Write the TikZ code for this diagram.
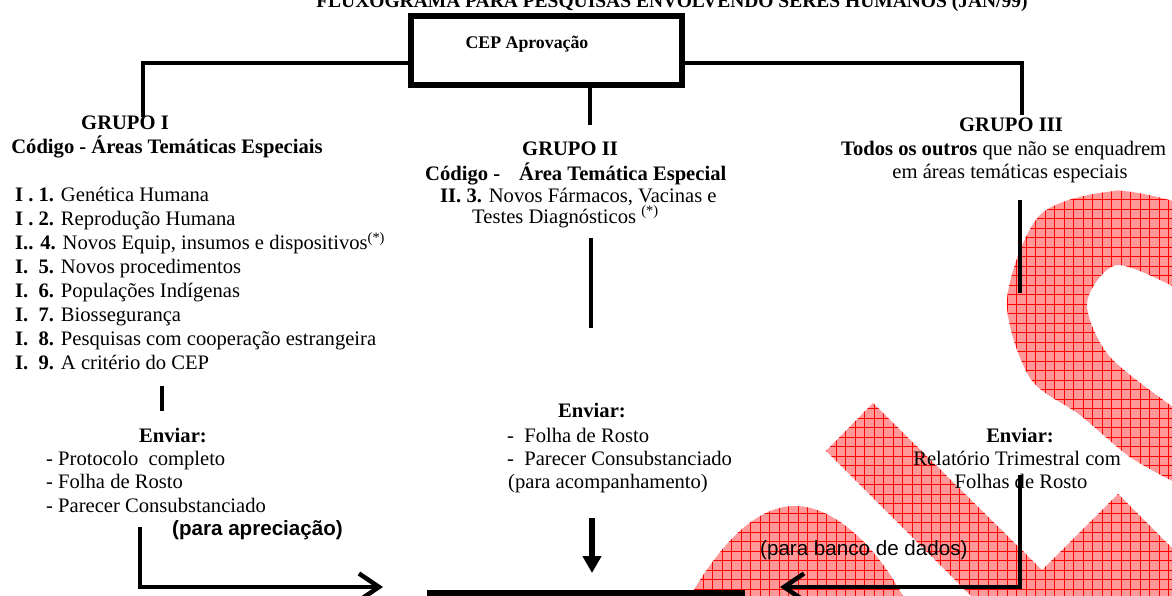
\documentclass[tikz,border=0pt]{standalone}
\usepackage{fontspec}
\setmainfont{Liberation Serif}
\setsansfont{Liberation Sans}
\usetikzlibrary{arrows.meta}

\begin{document}
\begin{tikzpicture}[x=1pt,y=-1pt]
                \tikzstyle{txt} = [inner sep=0pt, font=\fontsize{20.6}{24}\selectfont];
                \tikzstyle{head} = [inner sep=0pt, font=\fontsize{20.6}{24}\selectfont\bfseries];
                \tikzstyle{note} = [inner sep=0pt, font=\fontsize{20.6}{24}\selectfont\sffamily];
                \tikzstyle{cepbox} = [draw, line width=6pt, minimum width=271pt, minimum height=69pt, inner sep=0pt, font=\fontsize{17.8}{21}\selectfont\bfseries];
                \tikzstyle{link} = [line width=4.5pt];

                \useasboundingbox (0,0) rectangle (1172,595);

                % watermark behind the chart
                \begin{scope}
                    \clip (688,600) .. controls (722,540) and (758,506) .. (795,506)
                              .. controls (835,506) and (878,548) .. (905,600) -- cycle
                          (826,451) -- (873,403) -- (1042,570) -- (1118,494) -- (1180,556)
                              -- (1180,600) -- (975,600) -- cycle
                          plot[smooth] coordinates {(1180,203) (1115,191) (1040,215) (1007,300) (1030,378) (1080,415) (1130,457) (1180,485)}
                              -- plot[smooth] coordinates {(1180,412) (1110,357) (1087,303) (1117,265) (1180,290)} -- cycle;
                    \fill[red!40] (600,150) rectangle (1180,600);
                    \draw[red, line width=0.5pt, step=9.5pt] (600,150) grid (1180,600);
                \end{scope}

                \node[head, anchor=base, font=\fontsize{19.5}{23}\selectfont\bfseries](title) at (672,7) {FLUXOGRAMA PARA PESQUISAS ENVOLVENDO SERES HUMANOS (JAN/99)};
                \node[cepbox](cep) at (546.5,50.5) {\raisebox{6.6pt}[\height][\depth]{CEP Aprovação}\hspace*{39pt}};

                % grupo I
                \node[head, anchor=base](g1) at (125,129) {GRUPO I};
                \node[head, anchor=base](g1cod) at (167,153) {Código - Áreas Temáticas Especiais};
                \foreach \cod/\txt [count=\i from 0] in {
                    {I . 1.}/{Genética Humana},
                    {I . 2.}/{Reprodução Humana},
                    {I.. 4.}/{Novos Equip, insumos e dispositivos\textsuperscript{(*)}},
                    {I.\ \ 5.}/{Novos procedimentos},
                    {I.\ \ 6.}/{Populações Indígenas},
                    {I.\ \ 7.}/{Biossegurança},
                    {I.\ \ 8.}/{Pesquisas com cooperação estrangeira},
                    {I.\ \ 9.}/{A critério do CEP}}
                    \node[txt, anchor=base west](i\i) at (15,201.7+24*\i) {\textbf{\cod} \txt};

                \node[head, anchor=base](s1) at (173,442) {Enviar:};
                \node[txt, anchor=base west](s1a) at (46,465) {- Protocolo\ \ completo};
                \node[txt, anchor=base west](s1b) at (46,488) {- Folha de Rosto};
                \node[txt, anchor=base west](s1c) at (46,512) {- Parecer Consubstanciado};
                \node[note, anchor=base west](s1n) at (172,535) {\bfseries (para apreciação)};

                % grupo II
                \node[head, anchor=base](g2) at (570,155) {GRUPO II};
                \node[head, anchor=base west](g2cod) at (425,180) {Código -\hspace*{19pt}Área Temática Especial};
                \node[txt, anchor=base west](g2a) at (440,202) {\textbf{II. 3.} Novos Fármacos, Vacinas e};
                \node[txt, anchor=base west](g2b) at (472,223) {Testes Diagnósticos \textsuperscript{(*)}};

                \node[head, anchor=base](s2) at (592,417) {Enviar:};
                \node[txt, anchor=base west](s2a) at (507,442) {-\ \ Folha de Rosto};
                \node[txt, anchor=base west](s2b) at (507,465) {-\ \ Parecer Consubstanciado};
                \node[txt, anchor=base west](s2c) at (508,488) {(para acompanhamento)};

                % grupo III
                \node[head, anchor=base](g3) at (1011,131) {GRUPO III};
                \node[txt, anchor=base west](g3a) at (841,155) {\textbf{Todos os outros} que não se enquadrem};
                \node[txt, anchor=base](g3b) at (1010,178) {em áreas temáticas especiais};

                \node[head, anchor=base](s3) at (1020,442) {Enviar:};
                \node[txt, anchor=base](s3a) at (1017,465) {Relatório Trimestral com};
                \node[txt, anchor=base](s3b) at (1021,488) {Folhas de Rosto};
                \node[note, anchor=base west](s3n) at (760,555) {(para banco de dados)};

                % connectors
                \coordinate (g1top) at (143,117);
                \coordinate (g2top) at (590,125);
                \coordinate (g3top) at (1022,115);
                \coordinate (c1a) at (162,386);
                \coordinate (c1b) at (162,411);
                \coordinate (c2a) at (591,238);
                \coordinate (c2b) at (591,328);
                \coordinate (c3a) at (1020,200);
                \coordinate (c3b) at (1020,293);
                \coordinate (a1) at (140,527);
                \coordinate (a1end) at (383,587);
                \coordinate (a2) at (592,518);
                \coordinate (a2end) at (592,573);
                \coordinate (a3) at (1020,475);
                \coordinate (a3end) at (780,587);
                \coordinate (barl) at (427,593);
                \coordinate (barr) at (745,593);

                \draw[link] ([yshift=-12.5pt]cep.west) -| (g1top);
                \draw[link] (cep.south -| g2top) -- (g2top);
                \draw[link] ([yshift=-12.5pt]cep.east) -| (g3top);

                \draw[link] (c1a) -- (c1b);
                \draw[link] (c2a) -- (c2b);
                \draw[link] (c3a) -- (c3b);

                \draw[link, -{Straight Barb[length=20pt,width=27pt]}] (a1) |- (a1end);
                \draw[link, line width=5.5pt, -{Triangle[length=17pt,width=18pt]}] (a2) -- (a2end);
                \draw[link, -{Straight Barb[length=20pt,width=27pt]}] (a3) |- (a3end);
                \draw[line width=6pt] (barl) -- (barr);
            \end{tikzpicture}
\end{document}
